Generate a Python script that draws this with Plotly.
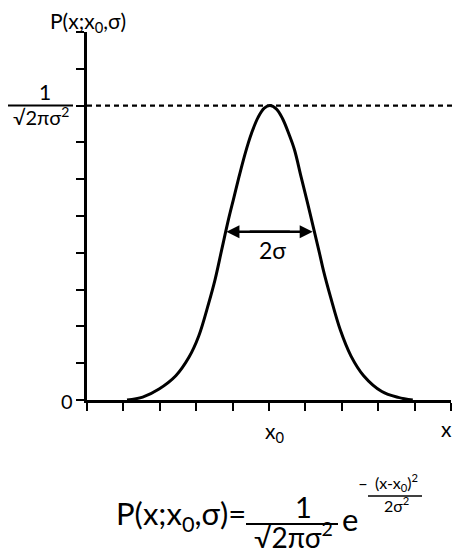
import plotly.graph_objects as go

# curve (x and P in axis units, both axes run 0..10)
curve_x = [1.10, 1.53, 1.98, 2.44, 2.80, 3.07, 3.34, 3.52, 3.70, 3.89, 4.02, 4.16, 4.29,
           4.43, 4.52, 4.70, 4.87, 5.03, 5.20, 5.37, 5.55, 5.70, 5.88, 6.06, 6.24, 6.38,
           6.50, 6.69, 6.96, 7.25, 7.60, 8.10, 8.55, 8.95]
curve_y = [0.00, 0.08, 0.30, 0.66, 1.16, 1.74, 2.62, 3.28, 4.08, 4.92, 5.44, 6.00, 6.50,
           6.98, 7.25, 7.68, 7.93, 8.00, 7.91, 7.65, 7.22, 6.80, 6.07, 5.35, 4.60, 4.02,
           3.50, 2.80, 1.90, 1.20, 0.66, 0.23, 0.07, 0.00]

tick_vals = list(range(0, 11))
peak_level = 8.0
x0_pos = 5.03
width_ends = [3.83, 6.20]
width_level = 4.57

FONT = "Lato"
PAGE = 8                        # body margin of the html page
FIG_W, FIG_H = 460 - 2 * PAGE, 560 - 2 * PAGE
L, T, W, H = 87, 32, 364, 368   # plot area as seen on screen


def px(x):
    return (x - L) / W


def py(y):
    return (T + H - y) / H


fig = go.Figure()
fig.add_trace(go.Scatter(x=curve_x, y=curve_y, mode='lines',
                         line=dict(color='black', width=3, shape='spline', smoothing=1),
                         hoverinfo='skip', showlegend=False))

shapes = [
    # dashed peak level
    dict(type='line', xref='paper', yref='paper', x0=0, x1=px(453),
         y0=peak_level / 10, y1=peak_level / 10,
         line=dict(color='black', width=2.2, dash='5px,4px')),
    # fraction bar of the peak label
    dict(type='line', xref='paper', yref='paper', x0=px(PAGE), x1=px(73),
         y0=peak_level / 10, y1=peak_level / 10, line=dict(color='black', width=2)),
    # formula fraction bars
    dict(type='line', xref='paper', yref='paper', x0=px(246), x1=px(338),
         y0=py(524), y1=py(524), line=dict(color='black', width=2.2)),
    dict(type='line', xref='paper', yref='paper', x0=px(368), x1=px(422),
         y0=py(496), y1=py(496), line=dict(color='black', width=1.4)),
]


def txt(text, x, y, size, xanchor='center'):
    return dict(text=text, xref='paper', yref='paper', x=px(x), y=py(y),
                xanchor=xanchor, yanchor='middle', showarrow=False, borderpad=0,
                font=dict(family=FONT, size=size, color='black'))


annotations = [
    txt('P(x;x<sub>0</sub>,σ)', 88, 22, 21),
    txt('0', 67, 401, 20),
    txt('1', 45, 92, 21),
    txt('√2πσ<sup>2</sup>', 41, 116, 20),
    txt('x<sub>0</sub>', 264, 432, 21, 'left'),
    txt('x', 446, 428, 21),
    txt('2σ', 272, 250, 23),
    # formula
    txt('P(x;x<sub>0</sub>,σ)=', 247, 515, 31, 'right'),
    txt('1', 303, 507, 29),
    txt('√2πσ<sup>2</sup>', 293, 535, 28),
    txt('e', 350, 519, 31),
    txt('–', 363, 484, 17),
    txt('(x-x<sub>0</sub>)<sup>2</sup>', 396, 482, 16),
    txt('2σ<sup>2</sup>', 396, 504, 16),
]

# double headed 2-sigma arrow, two overlapping halves
for end, tail in zip(width_ends, reversed(width_ends)):
    annotations.append(dict(x=end, y=width_level, ax=(tail + x0_pos) / 2, ay=width_level,
                            xref='x', yref='y', axref='x', ayref='y', text='',
                            showarrow=True, arrowhead=2, arrowsize=1, arrowwidth=2.6,
                            arrowcolor='black', standoff=0, startstandoff=0))

axis_style = dict(range=[0, 10], tickvals=tick_vals, showticklabels=False,
                  ticks='outside', ticklen=8, tickwidth=2.2, tickcolor='black',
                  showline=True, linecolor='black', linewidth=2.8,
                  showgrid=False, zeroline=False, fixedrange=True)

fig.update_layout(width=FIG_W, height=FIG_H, autosize=False,
                  margin=dict(l=L - PAGE, r=FIG_W - (L - PAGE) - W,
                              t=T - PAGE, b=FIG_H - (T - PAGE) - H),
                  paper_bgcolor='white', plot_bgcolor='white',
                  xaxis=axis_style, yaxis=axis_style,
                  shapes=shapes, annotations=annotations,
                  font=dict(family=FONT, color='black'))

fig.write_html("out.html")
